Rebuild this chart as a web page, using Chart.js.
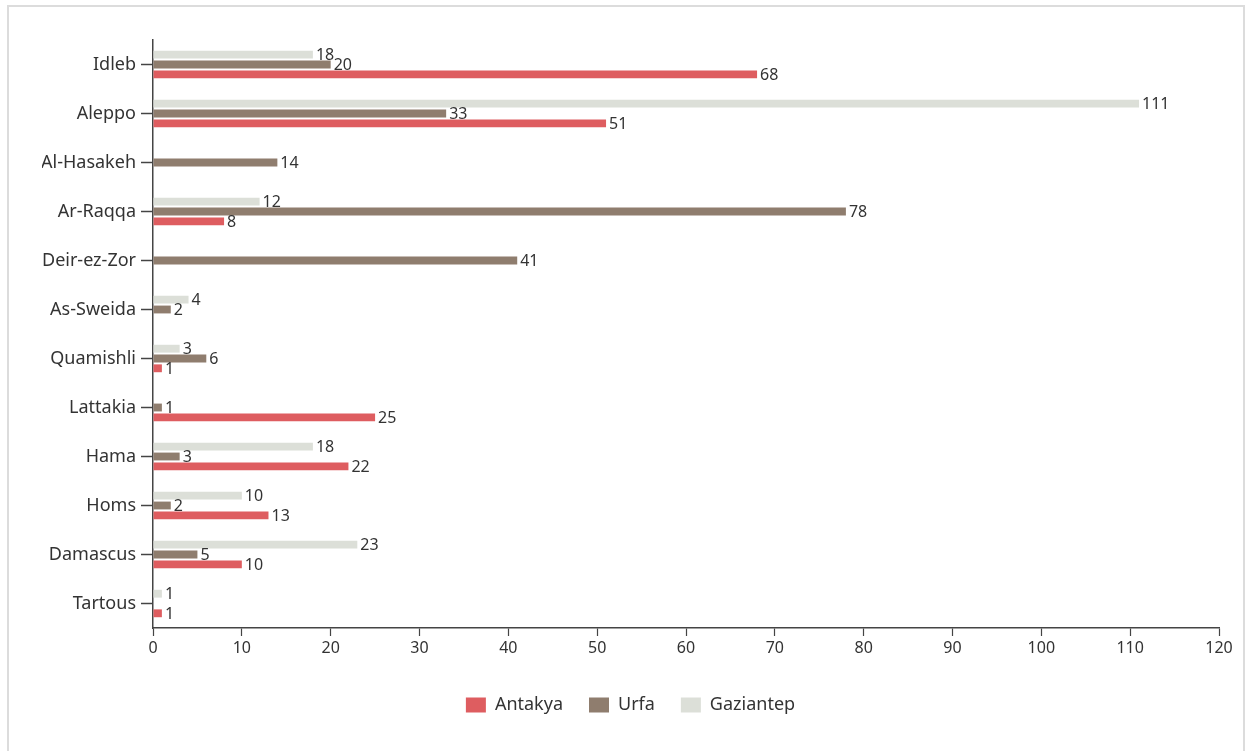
<!DOCTYPE html>
<html>
<head>
<meta charset="utf-8">
<script src="https://cdn.jsdelivr.net/npm/chart.js@4/dist/chart.umd.min.js"></script>
<style>
  html, body { margin: 0; padding: 0; background: #fff; }
  #frame { position: absolute; left: 7px; top: 5px; width: 1238px; height: 760px; border: 2px solid #dcdcdc; box-sizing: border-box; }
  #wrap { position: absolute; left: 0; top: 0; width: 1249px; height: 751px; }
</style>
</head>
<body>
<div id="frame"></div>
<div id="wrap"><canvas id="c" width="1249" height="751"></canvas></div>
<script>
const categories = ['Idleb', 'Aleppo', 'Al-Hasakeh', 'Ar-Raqqa', 'Deir-ez-Zor', 'As-Sweida', 'Quamishli', 'Lattakia', 'Hama', 'Homs', 'Damascus', 'Tartous'];
const antakya   = [68, 51, null, 8, null, null, 1, 25, 22, 13, 10, 1];
const urfa      = [20, 33, 14, 78, 41, 2, 6, 1, 3, 2, 5, null];
const gaziantep = [18, 111, null, 12, null, 4, 3, null, 18, 10, 23, 1];
const xTicks = [0, 10, 20, 30, 40, 50, 60, 70, 80, 90, 100, 110, 120];

const FONT = '"Noto Sans", sans-serif';
const TEXT = '#333333';

const valueLabels = {
  id: 'valueLabels',
  afterDatasetsDraw(chart) {
    const ctx = chart.ctx;
    ctx.save();
    ctx.font = '16px ' + FONT;
    ctx.fillStyle = TEXT;
    ctx.textAlign = 'left';
    ctx.textBaseline = 'middle';
    chart.data.datasets.forEach((ds, di) => {
      const meta = chart.getDatasetMeta(di);
      meta.data.forEach((el, i) => {
        const v = ds.data[i];
        if (v === null || v === undefined) return;
        ctx.fillText(String(v), el.x + 3, el.y + 1);
      });
    });
    ctx.restore();
  }
};

new Chart(document.getElementById('c'), {
  type: 'bar',
  data: {
    labels: categories,
    datasets: [
      { label: 'Gaziantep', data: gaziantep, backgroundColor: '#dcdfd8' },
      { label: 'Urfa', data: urfa, backgroundColor: '#8f7d6e' },
      { label: 'Antakya', data: antakya, backgroundColor: '#de5d60' }
    ]
  },
  options: {
    indexAxis: 'y',
    responsive: false,
    animation: false,
    categoryPercentage: 0.6,
    barPercentage: 0.8,
    layout: { padding: { left: 42, right: 30, top: 40, bottom: 27 } },
    scales: {
      x: {
        min: 0, max: 120,
        afterBuildTicks(scale) { scale.ticks = xTicks.map(v => ({ value: v })); },
        afterFit(scale) { scale.height = 42; },
        grid: { drawOnChartArea: false, drawTicks: true, tickLength: 8, color: '#444', tickWidth: 1.2 },
        border: { color: '#444', width: 1.5 },
        ticks: { color: TEXT, font: { family: FONT, size: 16 }, padding: 3 }
      },
      y: {
        afterFit(scale) { scale.width = 111; },
        grid: { offset: false, drawOnChartArea: false, drawTicks: true, tickLength: 12, color: '#444', tickWidth: 1.5 },
        border: { color: '#444', width: 1.5 },
        ticks: { color: TEXT, font: { family: FONT, size: 18 }, padding: 5 }
      }
    },
    plugins: {
      legend: {
        position: 'bottom',
        reverse: true,
        labels: { color: TEXT, font: { family: FONT, size: 18 }, boxWidth: 20, boxHeight: 15, padding: 26 }
      },
      tooltip: { enabled: false }
    }
  },
  plugins: [valueLabels]
});
</script>
</body>
</html>
